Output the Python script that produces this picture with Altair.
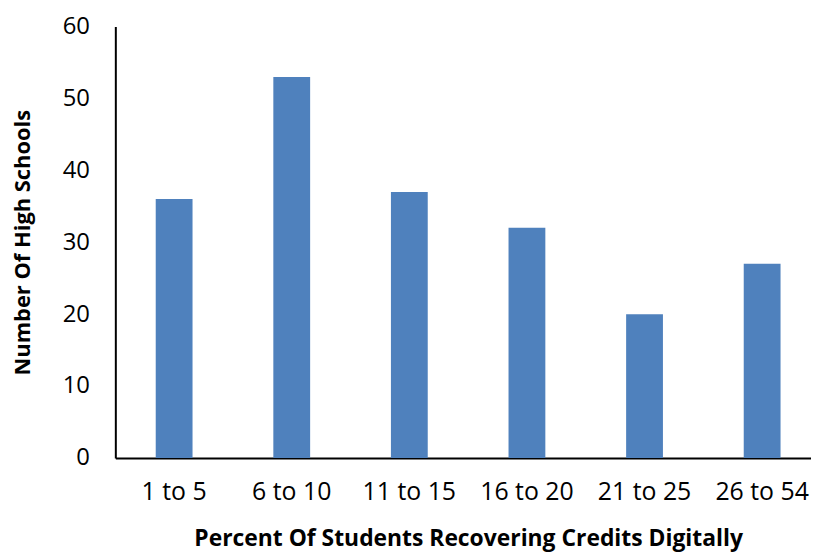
import altair as alt
import pandas as pd

categories = ["1 to 5", "6 to 10", "11 to 15", "16 to 20", "21 to 25", "26 to 54"]
values = [36, 53, 37, 32, 20, 27]

df = pd.DataFrame({"range": categories, "count": values})

FONT = "Open Sans"

chart = alt.Chart(df).mark_bar(color="#4f81bd").encode(
    x=alt.X(
        "range:N",
        sort=categories,
        scale=alt.Scale(range=[0, 710], paddingInner=0.687, paddingOuter=0.3435),
        axis=alt.Axis(
            title="Percent Of Students Recovering Credits Digitally",
            labelAngle=0,
            labelFontSize=25,
            labelFont=FONT,
            labelColor="#000000",
            labelPadding=22,
            ticks=False,
            domainColor="#000000",
            domainWidth=2,
            titleFont=FONT,
            titleFontSize=23,
            titleFontWeight="bold",
            titleColor="#000000",
            titlePadding=23,
            titleX=355,
        ),
    ),
    y=alt.Y(
        "count:Q",
        scale=alt.Scale(domain=[0, 60]),
        axis=alt.Axis(
            title="Number Of High Schools",
            values=[0, 10, 20, 30, 40, 50, 60],
            grid=False,
            ticks=False,
            labelFontSize=24,
            labelFont=FONT,
            labelColor="#000000",
            labelPadding=26,
            domainColor="#000000",
            domainWidth=2,
            titleFont=FONT,
            titleFontSize=22,
            titleFontWeight="bold",
            titleColor="#000000",
            titlePadding=28,
        ),
    ),
).properties(
    width=700,
    height=434,
    autosize=alt.AutoSizeParams(type="none"),
    padding={"left": 108, "top": 17, "right": 0, "bottom": 97},
).configure_view(stroke=None)

chart.save("out.html", embed_options={"renderer": "svg", "actions": False})
